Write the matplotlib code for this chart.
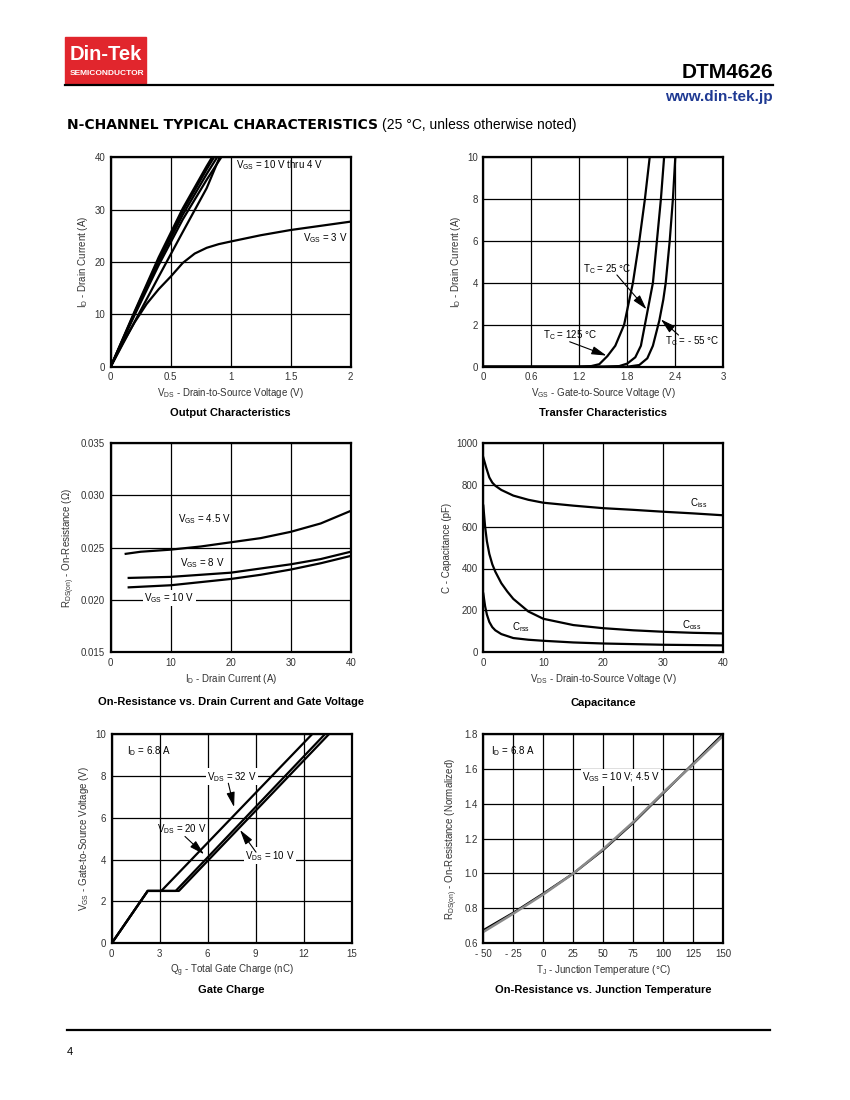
import matplotlib
matplotlib.use("Agg")
import matplotlib.pyplot as plt
from matplotlib.patches import Rectangle

plt.rcParams['font.family'] = ['Liberation Sans', 'DejaVu Sans']
plt.rcParams['mathtext.fontset'] = 'custom'
plt.rcParams['mathtext.rm'] = 'Liberation Sans'
plt.rcParams['mathtext.it'] = 'Liberation Sans:italic'
plt.rcParams['mathtext.bf'] = 'Liberation Sans:bold'
plt.rcParams['mathtext.default'] = 'regular'

# --- Output characteristics (ID vs VDS) ---
vds_out = [0, 0.2, 0.4, 0.6, 0.8, 0.95]
id_vgs10 = [0, 10.6, 20.9, 30.2, 38.3, 44.0]
id_vgs8 = [0, 10.4, 20.5, 29.7, 37.7, 43.3]
id_vgs6 = [0, 10.2, 20.0, 29.0, 36.8, 42.3]
id_vgs5 = [0, 9.9, 19.4, 28.1, 35.7, 41.0]
id_vgs4 = [0, 8.6, 17.2, 25.7, 34.1, 42.3]
vds_3v = [0, 0.1, 0.2, 0.3, 0.4, 0.5, 0.6, 0.7, 0.8, 0.9, 1.0, 1.25, 1.5, 1.75, 2.0]
id_vgs3 = [0, 4.5, 8.5, 12.0, 14.8, 17.2, 19.8, 21.6, 22.7, 23.4, 23.9, 25.1, 26.1, 26.9, 27.7]

# --- Transfer characteristics (ID vs VGS) ---
vgs_125 = [0, 1.2, 1.35, 1.45, 1.55, 1.65, 1.76, 1.87, 1.95, 2.02, 2.08]
id_125 = [0, 0, 0.03, 0.12, 0.5, 1.0, 2.0, 4.0, 6.0, 8.0, 10.0]
vgs_25 = [0, 1.5, 1.7, 1.8, 1.9, 1.97, 2.02, 2.07, 2.12, 2.17, 2.22, 2.26]
id_25 = [0, 0, 0.03, 0.15, 0.45, 1.0, 2.0, 3.0, 4.0, 6.0, 8.0, 10.0]
vgs_m55 = [0, 1.8, 1.95, 2.05, 2.12, 2.2, 2.25, 2.28, 2.33, 2.37, 2.4]
id_m55 = [0, 0, 0.08, 0.4, 1.0, 2.2, 3.2, 4.0, 6.0, 8.0, 10.0]

# --- On-resistance vs drain current ---
id_45 = [2.5, 5, 10, 15, 20, 25, 30, 35, 40]
rds_45 = [0.0244, 0.0246, 0.0248, 0.0251, 0.0255, 0.0259, 0.0265, 0.0273, 0.0285]
id_8 = [3, 10, 15, 20, 25, 30, 35, 40]
rds_8 = [0.0221, 0.0222, 0.0224, 0.0226, 0.0230, 0.0234, 0.0239, 0.0246]
id_10 = [3, 10, 15, 20, 25, 30, 35, 40]
rds_10 = [0.0212, 0.0214, 0.0217, 0.0220, 0.0224, 0.0229, 0.0235, 0.0242]

# --- Capacitance ---
vds_ciss = [0, 0.5, 1, 1.5, 2, 3, 5, 7.5, 10, 15, 20, 25, 30, 35, 40]
ciss = [930, 880, 835, 810, 795, 775, 748, 728, 714, 700, 688, 680, 671, 663, 654]
vds_coss = [0, 0.3, 0.6, 1, 1.5, 2, 3, 4, 5, 7.5, 10, 15, 20, 25, 30, 35, 40]
coss = [700, 600, 530, 470, 420, 385, 330, 290, 255, 195, 160, 130, 115, 105, 98, 93, 90]
vds_crss = [0, 0.3, 0.6, 1, 1.5, 2, 3, 5, 7.5, 10, 15, 20, 30, 40]
crss = [280, 220, 180, 145, 120, 105, 87, 68, 60, 55, 47, 42, 36, 33]

# --- Gate charge ---
qg_32 = [0, 2.25, 3.1, 12.55]
vgs_32 = [0, 2.5, 2.5, 10]
qg_20 = [0, 2.25, 4.0, 13.35]
vgs_20 = [0, 2.5, 2.5, 10]
qg_10 = [0, 2.25, 4.2, 13.6]
vgs_10 = [0, 2.5, 2.5, 10]

# --- On-resistance vs junction temperature ---
tj = [-50, -25, 0, 25, 50, 75, 100, 125, 150]
rnorm_10v = [0.675, 0.775, 0.885, 1.0, 1.135, 1.29, 1.46, 1.63, 1.80]
rnorm_45v = [0.665, 0.77, 0.88, 1.0, 1.14, 1.295, 1.465, 1.625, 1.79]
tj_ticks = [-50, -25, 0, 25, 50, 75, 100, 125, 150]
tj_labels = ['- 50', '- 25', '0', '25', '50', '75', '100', '125', '150']

fig = plt.figure(figsize=(8.5, 11), dpi=100)

# page header / footer drawn in pixel space
page = fig.add_axes([0, 0, 1, 1])
page.set_xlim(0, 850)
page.set_ylim(1100, 0)
page.axis('off')
page.add_patch(Rectangle((65, 37), 81, 46, color='#e1262d'))
page.text(106, 55, 'Din-Tek', color='white', fontsize=14.5, fontweight='bold', ha='center', va='center')
page.text(107, 73.5, 'SEMICONDUCTOR', color='white', fontsize=6, fontweight='bold', ha='center', va='center')
page.plot([65, 773], [85, 85], color='k', lw=1.6)
page.text(773, 72, 'DTM4626', fontsize=15, fontweight='bold', ha='right', va='center')
page.text(773, 97, 'www.din-tek.jp', fontsize=11, fontweight='bold', color='#1f3a93', ha='right', va='center')
head = page.text(67, 125, 'N-CHANNEL TYPICAL CHARACTERISTICS', fontsize=10, fontweight='bold',
                 family='DejaVu Sans', ha='left', va='center')
page.annotate('(25 °C, unless otherwise noted)', xy=(1, 0.5), xycoords=head,
              xytext=(3, 0), textcoords='offset points', fontsize=10, ha='left', va='center')
page.plot([67, 770], [1030, 1030], color='k', lw=1.6)
page.text(67, 1052, '4', fontsize=8, ha='left', va='center')

W, H = 240 / 850, 209.5 / 1100
LX, RX = 110.7 / 850, 483.3 / 850
B1, B2, B3 = 1 - 366.7 / 1100, 1 - 652.3 / 1100, 1 - 943.3 / 1100


def style(ax, xlim, ylim, xticks, yticks, xlabel, ylabel, title, tpos, xtl=None, ytl=None):
    ax.set_xlim(*xlim)
    ax.set_ylim(*ylim)
    ax.set_xticks(xticks)
    ax.set_yticks(yticks)
    if xtl is not None:
        ax.set_xticklabels(xtl)
    if ytl is not None:
        ax.set_yticklabels(ytl)
    ax.grid(True, color='k', lw=0.9)
    ax.set_axisbelow(True)
    for s in ax.spines.values():
        s.set_linewidth(1.6)
    ax.tick_params(length=0, pad=4, labelsize=7, colors='#333333')
    ax.set_xlabel(xlabel, fontsize=7, color='#333333', labelpad=3)
    ax.set_ylabel(ylabel, fontsize=7, color='#333333', labelpad=3)
    ax.text(0.5, tpos, title, transform=ax.transAxes, ha='center', va='center',
            fontsize=8, fontweight='bold')


def arrow(ax, tail, tip):
    ax.annotate('', xy=tip, xytext=tail,
                arrowprops=dict(arrowstyle='-|>,head_length=0.9,head_width=0.25',
                                color='k', lw=0.8, mutation_scale=10, shrinkA=0, shrinkB=0))


lw = 1.6
# 1 output characteristics
ax1 = fig.add_axes([LX, B1, W, H])
for y in (id_vgs10, id_vgs8, id_vgs6, id_vgs5, id_vgs4):
    ax1.plot(vds_out, y, color='k', lw=lw)
ax1.plot(vds_3v, id_vgs3, color='k', lw=lw)
ax1.text(1.04, 38.4, 'V$_{GS}$ = 10 V thru 4 V', fontsize=7, va='center')
ax1.text(1.6, 24.6, 'V$_{GS}$ = 3 V', fontsize=7, va='center')
style(ax1, (0, 2), (0, 40), [0, 0.5, 1, 1.5, 2], [0, 10, 20, 30, 40],
      'V$_{DS}$ - Drain-to-Source Voltage (V)', 'I$_D$ - Drain Current (A)',
      'Output Characteristics', -0.22, xtl=['0', '0.5', '1', '1.5', '2'])

# 2 transfer characteristics
ax2 = fig.add_axes([RX, B1, W, H])
ax2.plot(vgs_125, id_125, color='k', lw=lw)
ax2.plot(vgs_25, id_25, color='k', lw=lw)
ax2.plot(vgs_m55, id_m55, color='k', lw=lw)
ax2.text(1.25, 4.67, 'T$_C$ = 25 °C', fontsize=7, va='center')
ax2.text(0.75, 1.5, 'T$_C$ = 125 °C', fontsize=7, va='center')
ax2.text(2.27, 1.23, 'T$_C$ = - 55 °C', fontsize=7, va='center')
arrow(ax2, (1.67, 4.38), (2.04, 2.74))
arrow(ax2, (1.08, 1.19), (1.54, 0.53))
arrow(ax2, (2.44, 1.51), (2.22, 2.26))
style(ax2, (0, 3), (0, 10), [0, 0.6, 1.2, 1.8, 2.4, 3], [0, 2, 4, 6, 8, 10],
      'V$_{GS}$ - Gate-to-Source Voltage (V)', 'I$_D$ - Drain Current (A)',
      'Transfer Characteristics', -0.22, xtl=['0', '0.6', '1.2', '1.8', '2.4', '3'])

# 3 on-resistance vs drain current
ax3 = fig.add_axes([LX, B2, W, H])
ax3.plot(id_45, rds_45, color='k', lw=lw)
ax3.plot(id_8, rds_8, color='k', lw=lw)
ax3.plot(id_10, rds_10, color='k', lw=lw)
ax3.text(11.2, 0.02776, 'V$_{GS}$ = 4.5 V', fontsize=7, va='center')
ax3.text(11.5, 0.02348, 'V$_{GS}$ = 8 V', fontsize=7, va='center')
ax3.text(5.6, 0.02017, 'V$_{GS}$ = 10 V', fontsize=7, va='center',
         bbox=dict(fc='white', ec='none', pad=1))
style(ax3, (0, 40), (0.015, 0.035), [0, 10, 20, 30, 40],
      [0.015, 0.020, 0.025, 0.030, 0.035],
      'I$_D$ - Drain Current (A)', 'R$_{DS(on)}$ - On-Resistance (Ω)',
      'On-Resistance vs. Drain Current and Gate Voltage', -0.238,
      ytl=['0.015', '0.020', '0.025', '0.030', '0.035'])

# 4 capacitance
ax4 = fig.add_axes([RX, B2, W, H])
ax4.plot(vds_ciss, ciss, color='k', lw=lw)
ax4.plot(vds_coss, coss, color='k', lw=lw)
ax4.plot(vds_crss, crss, color='k', lw=lw)
ax4.text(34.4, 712, 'C$_{iss}$', fontsize=7, va='center')
ax4.text(33.1, 132, 'C$_{oss}$', fontsize=7, va='center')
ax4.text(4.8, 118, 'C$_{rss}$', fontsize=7, va='center')
style(ax4, (0, 40), (0, 1000), [0, 10, 20, 30, 40], [0, 200, 400, 600, 800, 1000],
      'V$_{DS}$ - Drain-to-Source Voltage (V)', 'C - Capacitance (pF)',
      'Capacitance', -0.24)

# 5 gate charge
ax5 = fig.add_axes([111.7 / 850, B3, W, H])
ax5.plot(qg_32, vgs_32, color='k', lw=lw)
ax5.plot(qg_20, vgs_20, color='k', lw=lw)
ax5.plot(qg_10, vgs_10, color='k', lw=lw)
ax5.text(0.96, 9.18, 'I$_D$ = 6.8 A', fontsize=7, va='center')
ax5.text(5.97, 7.95, 'V$_{DS}$ = 32 V', fontsize=7, va='center',
         bbox=dict(fc='white', ec='none', pad=1))
ax5.text(2.83, 5.47, 'V$_{DS}$ = 20 V', fontsize=7, va='center')
ax5.text(8.33, 4.18, 'V$_{DS}$ = 10 V', fontsize=7, va='center',
         bbox=dict(fc='white', ec='none', pad=1))
arrow(ax5, (7.29, 7.64), (7.65, 6.5))
arrow(ax5, (4.58, 5.1), (5.77, 4.25))
arrow(ax5, (9.02, 4.35), (8.02, 5.41))
style(ax5, (0, 15), (0, 10), [0, 3, 6, 9, 12, 15], [0, 2, 4, 6, 8, 10],
      'Q$_g$ - Total Gate Charge (nC)', 'V$_{GS}$ - Gate-to-Source Voltage (V)',
      'Gate Charge', -0.223)

# 6 on-resistance vs junction temperature
ax6 = fig.add_axes([RX, B3, W, H])
ax6.plot(tj, rnorm_10v, color='k', lw=lw)
ax6.plot(tj, rnorm_45v, color='#8a8a8a', lw=1.8)
ax6.text(-43.6, 1.703, 'I$_D$ = 6.8 A', fontsize=7, va='center')
ax6.text(32.2, 1.549, 'V$_{GS}$ = 10 V; 4.5 V', fontsize=7, va='center',
         bbox=dict(fc='white', ec='none', pad=1))
style(ax6, (-50, 150), (0.6, 1.8), tj_ticks, [0.6, 0.8, 1.0, 1.2, 1.4, 1.6, 1.8],
      'T$_J$ - Junction Temperature (°C)', 'R$_{DS(on)}$ - On-Resistance (Normalized)',
      'On-Resistance vs. Junction Temperature', -0.223, xtl=tj_labels,
      ytl=['0.6', '0.8', '1.0', '1.2', '1.4', '1.6', '1.8'])

fig.savefig('out.png', dpi=100)
